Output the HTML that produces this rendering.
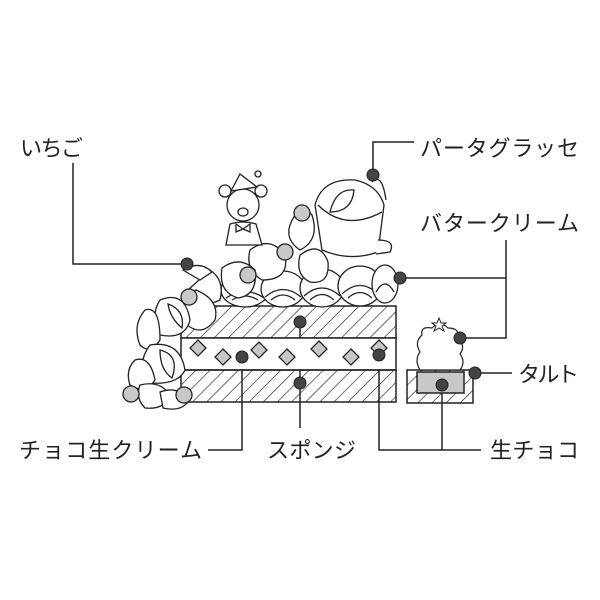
<!DOCTYPE html>
<html><head><meta charset="utf-8"><style>
html,body{margin:0;padding:0;background:#fff;}
svg{display:block;}
text{font-family:"Liberation Sans","Noto Sans CJK JP",sans-serif;font-size:22px;fill:#222;}
</style></head><body>
<svg width="600" height="600" viewBox="0 0 600 600" xmlns="http://www.w3.org/2000/svg">
<defs>
<pattern id="h" width="10" height="10" patternUnits="userSpaceOnUse" patternTransform="rotate(45)">
<line x1="0" y1="0" x2="0" y2="10" stroke="#222" stroke-width="1.3"/>
</pattern>
</defs>
<rect width="600" height="600" fill="#fff"/>
<g fill="none" stroke="#222" stroke-width="1.5">
<polyline points="73,163 73,264 187,264"/>
<polyline points="373,175 373,142 414,142"/>
<polyline points="400,278 506,278"/>
<polyline points="506,240 506,338 460,338"/>
<polyline points="475,373 512,373"/>
<polyline points="379,355 379,450 481,450"/>
<line x1="442" y1="385" x2="442" y2="450"/>
<line x1="300" y1="322" x2="300" y2="428"/>
<polyline points="242,357 242,450 208,450"/>
</g>
<g stroke="#222" stroke-width="1.5">
<rect x="181" y="306" width="215" height="32" fill="url(#h)"/>
<rect x="181" y="338" width="215" height="32" fill="#fff"/>
<rect x="181" y="370" width="215" height="32" fill="url(#h)"/>
</g>
<g fill="#c8c8c8" stroke="#222" stroke-width="1.3">
<path d="M198,340 l8,8 l-8,8 l-8,-8z"/>
<path d="M223,349 l8,8 l-8,8 l-8,-8z"/>
<path d="M259,342 l8,8 l-8,8 l-8,-8z"/>
<path d="M287,349 l8,8 l-8,8 l-8,-8z"/>
<path d="M319,341 l8,8 l-8,8 l-8,-8z"/>
<path d="M351,349 l8,8 l-8,8 l-8,-8z"/>
<path d="M379,340 l8,8 l-8,8 l-8,-8z"/>
</g>
<g fill="#fff" stroke="#222" stroke-width="1.3">
<!-- cup (behind swirls) -->
<path d="M315,205 Q322,178 355,180 Q378,185 384,205 L378,252 Q350,262 322,250 Z"/>
<path d="M372,182 Q382,172 386,200"/>
<path d="M378,240 Q396,240 390,252 L376,254"/>
<path d="M318,205 Q345,232 382,212"/>
<path d="M330,212 Q336,188 354,190 Q352,212 330,212Z"/>
<!-- swirls -->
<ellipse cx="245" cy="290" rx="24" ry="17"/>
<path d="M226,298 Q245,285 264,298 M232,300 Q245,292 258,300"/>
<ellipse cx="283" cy="289" rx="22" ry="18"/>
<path d="M265,297 Q283,282 301,297 M271,300 Q283,290 295,300"/>
<ellipse cx="322" cy="288" rx="22" ry="19"/>
<path d="M304,296 Q322,280 340,296 M310,300 Q322,289 334,300"/>
<ellipse cx="360" cy="286" rx="22" ry="20"/>
<path d="M342,294 Q360,277 378,294 M348,298 Q360,287 372,298"/>
<ellipse cx="385" cy="284" rx="13" ry="19"/>
<path d="M376,292 Q385,276 394,292"/>
<!-- strawberries on top -->
<path d="M290,225 Q300,200 312,215 Q320,240 300,250 Q285,240 290,225Z"/>
<path d="M300,255 Q320,240 328,262 Q330,285 310,282 Q295,275 300,255Z"/>
<path d="M250,250 Q270,235 285,255 Q290,280 262,280 Q245,270 250,250Z"/>
<path d="M222,268 Q240,255 255,270 Q258,295 238,298 Q218,292 222,268Z"/>
<path d="M210,270 Q225,280 220,300 Q200,310 188,290 Z"/>
<path d="M196,290 Q220,300 215,320 Q200,340 182,320 Q175,300 196,290Z"/>
<!-- bear -->
<circle cx="243" cy="205" r="16"/>
<circle cx="225" cy="191" r="6"/>
<circle cx="261" cy="191" r="6"/>
<path d="M231,191 L240,174 L257,187 Z"/>
<circle cx="258" cy="174" r="3"/>
<ellipse cx="243" cy="212" rx="5" ry="4"/>
<path d="M230,224 Q243,220 256,224 L262,245 L226,245 Z"/>
<path d="M236,224 l7,5 l7,-5 l0,8 l-7,-3 l-7,3z"/>
<!-- left strawberries -->
<path d="M160,300 Q185,290 190,320 Q185,340 160,335 Q150,315 160,300Z"/>
<path d="M168,304 Q185,310 182,328 Q170,318 168,304Z"/>
<path d="M145,310 Q160,305 160,340 Q150,355 140,345 Q132,325 145,310Z"/>
<path d="M150,345 Q180,340 185,370 Q178,385 150,383 Q135,365 150,345Z"/>
<path d="M160,350 Q180,355 172,378 Q160,370 160,350Z"/>
<path d="M135,360 Q150,355 155,380 Q145,395 130,385 Q125,370 135,360Z"/>
<path d="M140,385 Q160,380 170,395 Q165,410 145,408 Q135,398 140,385Z"/>
<path d="M160,392 Q180,385 188,402 Q180,412 163,408Z"/>
<path d="M183,270 Q200,260 212,272 L200,280 Z"/>
</g>
<g stroke="#222" stroke-width="1.5">
<rect x="407" y="370" width="66" height="33" fill="url(#h)"/>
<rect x="417" y="372" width="47" height="21" fill="#c8c8c8"/>
<path d="M420,370 Q414,360 420,352 Q414,342 422,335 Q420,326 432,328 Q440,320 448,328 Q460,328 458,338 Q466,346 460,354 Q466,362 460,370 Z" fill="#fff" stroke-width="1.2"/>
<path d="M439,318 l2,5 5,0 -4,3 2,5 -5,-3 -5,3 2,-5 -4,-3 5,0z" fill="#fff" stroke-width="1"/>
</g>
<g fill="#c8c8c8" stroke="#222" stroke-width="1.3">
<circle cx="302" cy="213" r="8"/>
<circle cx="285" cy="252" r="8"/>
<circle cx="248" cy="275" r="8"/>
<circle cx="189" cy="297" r="8"/>
<circle cx="131" cy="394" r="8"/>
<circle cx="184" cy="395" r="8"/>
</g>
<g fill="#444" stroke="#222" stroke-width="1">
<circle cx="187" cy="264" r="6"/>
<circle cx="373" cy="175" r="6"/>
<circle cx="400" cy="278" r="6"/>
<circle cx="460" cy="338" r="6"/>
<circle cx="475" cy="373" r="6"/>
<circle cx="300" cy="322" r="6"/>
<circle cx="300" cy="383" r="6"/>
<circle cx="242" cy="357" r="6"/>
<circle cx="379" cy="355" r="6"/>
<circle cx="442" cy="385" r="6"/>
</g>
<text x="20" y="156" textLength="63">いちご</text>
<text x="420" y="156" textLength="159">パータグラッセ</text>
<text x="420" y="231" textLength="159">バタークリーム</text>
<text x="518" y="382" textLength="61">タルト</text>
<text x="19" y="458" textLength="183">チョコ生クリーム</text>
<text x="267" y="458" textLength="89">スポンジ</text>
<text x="490" y="458" textLength="89">生チョコ</text>
</svg>
</body></html>
